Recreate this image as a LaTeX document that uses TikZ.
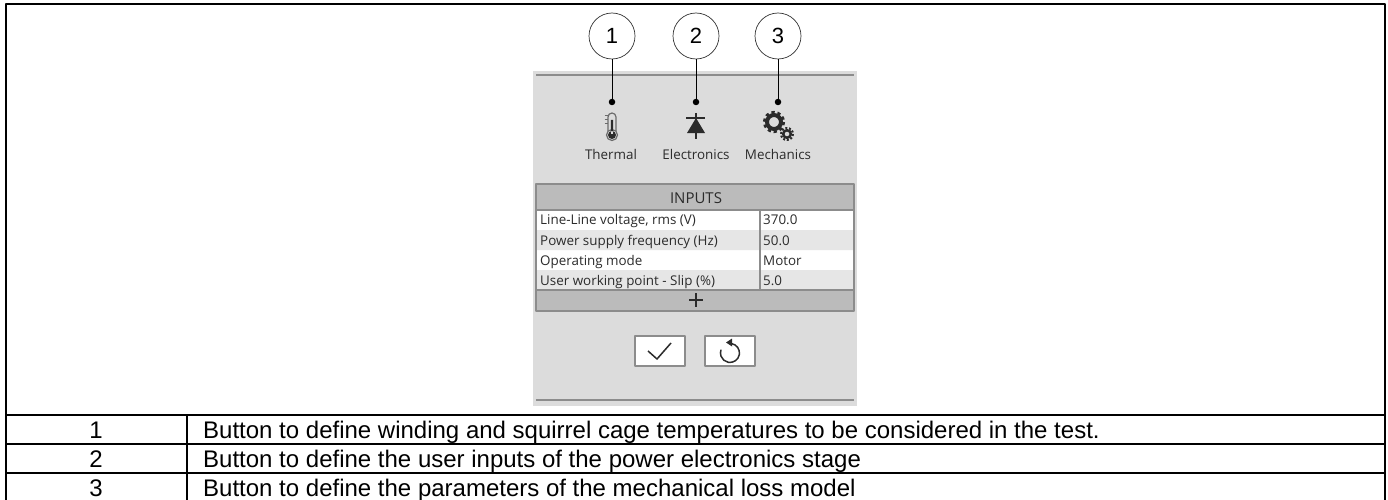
\documentclass[tikz,border=0pt]{standalone}
\usepackage{fontspec}
\setmainfont{Liberation Sans}
\newfontfamily\uifont{Open Sans}
\definecolor{panelgray}{HTML}{DCDCDC}
\definecolor{headgray}{HTML}{BBBBBB}
\definecolor{edgegray}{HTML}{8C8C8C}
\definecolor{rowgray}{HTML}{E6E6E6}
\definecolor{icondark}{HTML}{2B2B2B}
\tikzset{
	callout/.style={circle,draw=black!80,fill=white,line width=.7pt,minimum size=46pt,inner sep=0pt,font=\fontsize{22}{22}\selectfont},
	tip/.style={circle,fill=black,minimum size=6.5pt,inner sep=0pt},
	iconlabel/.style={font=\uifont\fontsize{13.4}{14}\selectfont,text=icondark,inner sep=0pt,anchor=base},
	headlabel/.style={font=\uifont\fontsize{15}{15}\selectfont,text=icondark,inner sep=0pt,anchor=base},
	celltext/.style={font=\uifont\fontsize{13.4}{14}\selectfont,text=icondark,inner sep=0pt,anchor=base west},
	rowtext/.style={font=\fontsize{24}{24}\selectfont,inner sep=0pt,anchor=base west},
	rownum/.style={font=\fontsize{24}{24}\selectfont,inner sep=0pt,anchor=base},
	grid/.style={line width=1.6pt,black},
	uibutton/.style={draw=edgegray,fill=white,line width=1.2pt}
}
\begin{document}
\begin{tikzpicture}[x=1pt,y=-1pt,line join=round]
	\useasboundingbox (0,0) rectangle (1388,500);
	% outer table
	\draw[grid] (6,500)--(6,4)--(1385,4)--(1385,500)
	(6,415)--(1385,415)
	(6,444)--(1385,444)
	(6,473)--(1385,473)
	(187,415)--(187,500)
	;
	\path (96,438)node[rownum](num1){1}
	+(0,29)node[rownum](num2){2}
	+(0,58)node[rownum](num3){3}
	(203,438)node[rowtext](txt1){Button to define winding and squirrel cage temperatures to be considered in the test.}
	+(0,29)node[rowtext](txt2){Button to define the user inputs of the power electronics stage}
	+(0,58)node[rowtext](txt3){Button to define the parameters of the mechanical loss model}
	;
	% screenshot panel
	\fill[panelgray] (533,71) rectangle (857,406);
	\draw[edgegray,line width=1.2pt] (536,75)--(854,75) (536,400)--(854,400);
	% inputs table
	\begin{scope}[shift={(536,184)}]
	\def\w{318}
	\fill[headgray] (0,0) rectangle (\w,25) (0,106) rectangle (\w,127);
	\fill[white] (0,26) rectangle (\w,46) (0,66) rectangle (\w,86);
	\fill[rowgray] (0,46) rectangle (\w,66) (0,86) rectangle (\w,106);
	\draw[edgegray,line width=1.3pt] (0,0) rectangle (\w,127)
	(0,26)--+(\w,0)
	(0,106)--+(\w,0)
	(224,26)--+(0,80)
	;
	\path (160,19)node[headlabel](head){INPUTS}
	(4,40)node[celltext](par1){Line-Line voltage, rms (V)}
	+(0,21)node[celltext](par2){Power supply frequency (Hz)}
	+(0,41)node[celltext](par3){Operating mode}
	+(0,61)node[celltext](par4){User working point - Slip (\%)}
	(227,40)node[celltext](val1){370.0}
	+(0,21)node[celltext](val2){50.0}
	+(0,41)node[celltext](val3){Motor}
	+(0,61)node[celltext](val4){5.0}
	;
	\draw[icondark,line width=2.6pt] (153,116)--+(14,0) (160,109)--+(0,14);
	\end{scope}
	% buttons
	\draw[uibutton] (635,336) rectangle (685,366) (705,336) rectangle (755,366);
	\draw[icondark,line width=1.5pt] (648,351)--(657,359)--(671,343);
	\draw[icondark,line width=1.5pt] (731.6,343.6) arc (-80:200:9.5);
	\fill[icondark] (726,342.5)--(732,338.5)--(732,346.5)--cycle;
	% icon labels
	\path (611,159)node[iconlabel](thermal){Thermal}
	(696,159)node[iconlabel](electronics){Electronics}
	(778,159)node[iconlabel](mechanics){Mechanics}
	;
	% thermometer
	\draw[icondark!70,line width=1.2pt,fill=panelgray] (608,131)--(608,117) arc (180:360:4)--(616,131);
	\draw[icondark!70,line width=1.2pt] (612,135) circle (5.5);
	\fill[icondark] (612,135) circle (4) (610.8,120) rectangle (613.2,134);
	\draw[icondark!70,line width=1pt] (604.5,116)--(608,116) (604.5,120)--(608,120) (604.5,124)--(608,124);
	% diode
	\fill[icondark] (696,118)--(687,133)--(705,133)--cycle;
	\draw[icondark,line width=1.5pt] (696,113)--(696,139) (686,118)--(705,118);
	% gears
	\draw[icondark,line width=4pt] (774,122) circle (7);
	\draw[icondark,line width=3pt,dash pattern=on 3.2pt off 2.85pt] (774,122) circle (9.6);
	\draw[icondark,line width=2.5pt] (787,134) circle (3.8);
	\draw[icondark,line width=2pt,dash pattern=on 2pt off 1.77pt] (787,134) circle (6);
	% callouts
	\node[callout](one) at (612,36){1};
	\node[callout](two) at (696,36){2};
	\node[callout](three) at (778,36){3};
	\node[tip](dot1) at (612,102){};
	\node[tip](dot2) at (696,102){};
	\node[tip](dot3) at (778,102){};
	\draw[line width=.8pt] (one)--(dot1);
	\draw[line width=.8pt] (two)--(dot2);
	\draw[line width=.8pt] (three)--(dot3);
\end{tikzpicture}
\end{document}
